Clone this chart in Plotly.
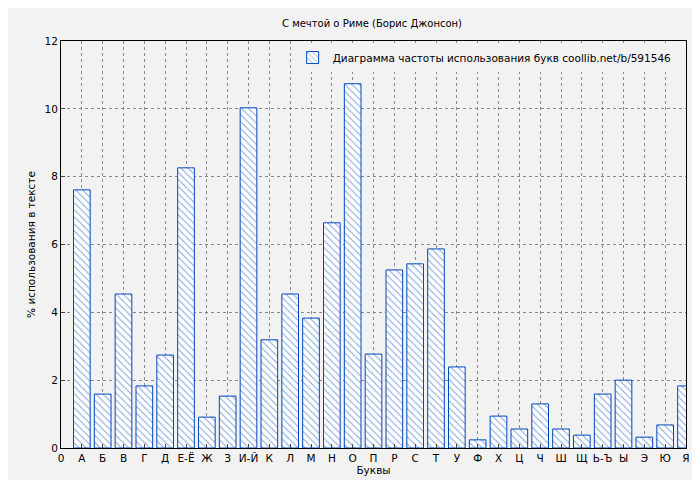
import plotly.graph_objects as go

letters = ["А", "Б", "В", "Г", "Д", "Е-Ё", "Ж", "З", "И-Й", "К", "Л", "М", "Н", "О", "П",
           "Р", "С", "Т", "У", "Ф", "Х", "Ц", "Ч", "Ш", "Щ", "Ь-Ъ", "Ы", "Э", "Ю", "Я"]
percent = [7.61, 1.59, 4.54, 1.83, 2.74, 8.26, 0.91, 1.53, 10.03, 3.19, 4.54, 3.83, 6.64, 10.74, 2.77,
           5.25, 5.43, 5.87, 2.39, 0.24, 0.94, 0.56, 1.30, 0.56, 0.38, 1.59, 2.00, 0.32, 0.68, 1.83]
positions = list(range(1, len(letters) + 1))

fig = go.Figure()
fig.add_trace(go.Bar(
    x=positions, y=percent, width=0.8,
    name="Диаграмма частоты использования букв coollib.net/b/591546",
    marker=dict(color="white", line=dict(color="#0047bb", width=1),
                pattern=dict(shape="\\", fgcolor="#0047bb", bgcolor="white", size=5, solidity=0.2)),
))

axis_common = dict(showline=True, linecolor="black", mirror=True, ticks="inside", ticklen=4,
                   showgrid=True, gridcolor="#888888", griddash="dot", gridwidth=1, zeroline=False,
                   automargin=False)

fig.update_layout(
    width=700, height=480,
    paper_bgcolor="#f2f2f2", plot_bgcolor="#f2f2f2",
    font=dict(family="DejaVu Sans", size=10.5, color="black"),
    margin=dict(l=53, r=22, t=33, b=40, autoexpand=False),
    title=dict(text="С мечтой о Риме (Борис Джонсон)", x=0.52, y=0.975, xanchor="center",
               font=dict(size=10)),
    showlegend=True,
    legend=dict(x=0.985, y=0.995, xanchor="right", yanchor="top", bgcolor="#f2f2f2",
                font=dict(size=10.5), itemwidth=30),
    xaxis=dict(axis_common, range=[0, 30], tickvals=[0] + positions, ticktext=["0"] + letters,
               title=dict(text="Буквы", font=dict(size=10.5), standoff=4)),
    yaxis=dict(axis_common, range=[0, 12], dtick=2,
               title=dict(text="% использования в тексте", font=dict(size=10.5), standoff=6)),
)

fig.write_html("out.html")
